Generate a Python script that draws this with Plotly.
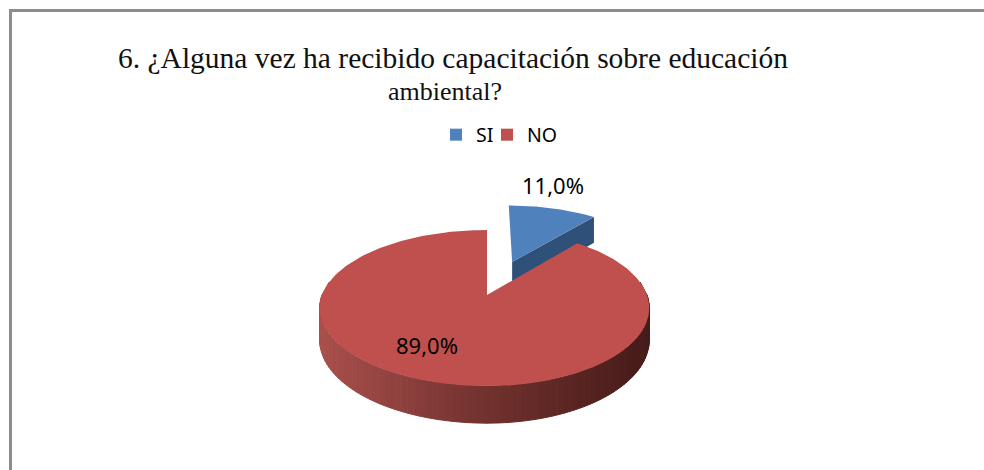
import numpy as np
import plotly.graph_objects as go

# data
categories = ["SI", "NO"]
values = [11.0, 89.0]
label_texts = ["11,0%", "89,0%"]
title_lines = ["6. ¿Alguna vez ha recibido capacitación sobre educación", "ambiental?"]

# style / projection parameters of the tilted pie
W, H = 984, 470
CX, CY = 487, 295
R_LEFT, R_RIGHT = 165, 160
R_Y = 75.8
PERSP = 1 / 6
DEPTH = 31
EXPLODE = 0.5
BLUE, BLUE_DARK = "#4f81bd", "#2f5079"
RED = "#c0504d"
WALL_STOPS_X = [320, 470, 640]
WALL_STOPS_RGB = [(170, 80, 77), (118, 52, 49), (72, 28, 26)]


def project(t_deg, r=1.0, ox=0.0, oy=0.0, z=0.0):
    t = np.radians(t_deg)
    X = ox + r * np.sin(t)
    Y = oy + r * np.cos(t)
    s = 1 / (1 + PERSP * Y)
    rx = np.where(X < 0, R_LEFT, R_RIGHT)
    return CX + rx * X * s, CY - R_Y * Y * s + z * s


def wall_colour(x):
    c = [np.interp(x, WALL_STOPS_X, [p[i] for p in WALL_STOPS_RGB]) for i in range(3)]
    return "rgb(%d,%d,%d)" % tuple(c)


fig = go.Figure()


def poly(xs, ys, colour, line=0.0):
    fig.add_trace(go.Scatter(
        x=list(xs), y=list(ys), mode="lines", fill="toself", fillcolor=colour,
        line=dict(color=colour, width=line), hoverinfo="skip", showlegend=False))


shares = np.array(values) / sum(values) * 360
si_end = shares[0]

# exploded SI slice
mid = np.radians(si_end / 2)
ox, oy = EXPLODE * np.sin(mid), EXPLODE * np.cos(mid)
arc = np.linspace(0, si_end, 40)
ax, ay = project(arc, 1, ox, oy)
apex_x, apex_y = project(np.array([0.0]), 0, ox, oy)
apex_bx, apex_by = project(np.array([0.0]), 0, ox, oy, DEPTH)
end_bx, end_by = project(np.array([si_end]), 1, ox, oy, DEPTH)
poly([apex_x[0], ax[-1], end_bx[0], apex_bx[0], apex_x[0]],
     [apex_y[0], ay[-1], end_by[0], apex_by[0], apex_y[0]], BLUE_DARK)
poly(np.r_[apex_x, ax, apex_x], np.r_[apex_y, ay, apex_y], BLUE)

# NO slice: side wall then top
wall = np.arange(max(si_end, 90), 270.01, 2.0)
wall = np.r_[80, wall, 280]
for a, b in zip(wall[:-1], wall[1:]):
    seg = np.array([a, b])
    tx, ty = project(seg)
    bx, by = project(seg, z=DEPTH)
    poly([tx[0], tx[1], bx[1], bx[0], tx[0]], [ty[0], ty[1], by[1], by[0], ty[0]],
         wall_colour(tx.mean()), 1.0)
arc = np.linspace(si_end, 360, 240)
ax, ay = project(arc)
poly(np.r_[CX, ax, CX], np.r_[CY, ay, CY], RED)

# legend entries
for name, colour in zip(categories, [BLUE, RED]):
    fig.add_trace(go.Scatter(x=[None], y=[None], mode="markers", name=name,
                             marker=dict(symbol="square", size=12, color=colour)))

label_pos = [(553, 185), (427, 345)]
annotations = [dict(x=x, y=y, text=t, showarrow=False, xref="x", yref="y",
                    font=dict(family="Noto Sans", size=22, color="#000000"))
               for (x, y), t in zip(label_pos, label_texts)]
for line, x, y, size in zip(title_lines, (453, 445), (58, 91), (29.5, 26)):
    annotations.append(dict(x=x, y=y, text=line, showarrow=False, xref="x", yref="y",
                            font=dict(family="Liberation Serif", size=size, color="#111111")))

border = "#8c8c8c"
shapes = [
    dict(type="line", xref="x", yref="y", x0=10.5, x1=10.5, y0=9, y1=H, line=dict(color=border, width=3)),
    dict(type="line", xref="x", yref="y", x0=9, x1=W, y0=10.5, y1=10.5, line=dict(color=border, width=3)),
]

fig.update_layout(
    width=W, height=H, margin=dict(l=0, r=0, t=0, b=0),
    paper_bgcolor="white", plot_bgcolor="white",
    xaxis=dict(range=[0, W], visible=False, fixedrange=True),
    yaxis=dict(range=[H, 0], visible=False, fixedrange=True),
    annotations=annotations, shapes=shapes,
    legend=dict(orientation="h", x=436 / W, xanchor="left", y=1 - 135 / H, yanchor="middle",
                font=dict(family="Noto Sans", size=19.5, color="#000000"),
                itemwidth=30, entrywidth=6, entrywidthmode="pixels",
                bgcolor="rgba(0,0,0,0)"),
)
fig.write_html(
    "out.html", config=dict(displayModeBar=False),
    post_script=("document.body.style.margin='0';"
                 "document.documentElement.style.overflow='hidden';"
                 "var s=document.createElement('style');"
                 "s.textContent='.legend .scrollbox,.legend .traces{clip-path:none !important}';"
                 "document.head.appendChild(s);"))
